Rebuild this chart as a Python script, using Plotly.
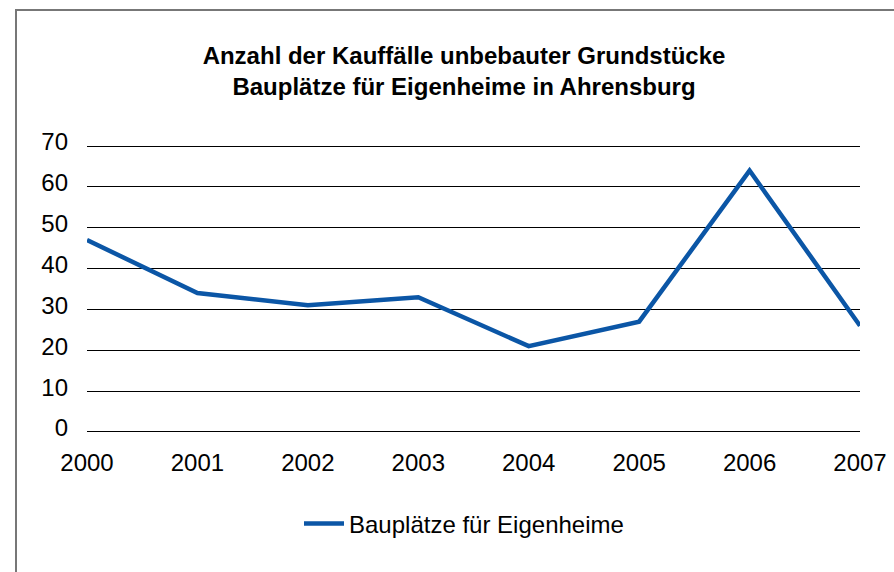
import plotly.graph_objects as go

years = [2000, 2001, 2002, 2003, 2004, 2005, 2006, 2007]
values = [47, 34, 31, 33, 21, 27, 64, 26]
series_name = "Bauplätze für Eigenheime"
title_lines = ["Anzahl der Kauffälle unbebauter Grundstücke", "Bauplätze für Eigenheime in Ahrensburg"]
y_ticks = [0, 10, 20, 30, 40, 50, 60, 70]

W, H = 894, 572
L, R, T, B = 87, 34, 144, 138
pw, ph = W - L - R, H - T - B
Y0 = H - B  # pixel of plot bottom

fig = go.Figure()
fig.add_trace(go.Scatter(
    x=years, y=values, mode="lines", name=series_name,
    line=dict(color="#0B56A6", width=4.5),
))

font = "Liberation Sans, Arial, Helvetica, sans-serif"
fs = 24
fig.update_layout(
    width=W, height=H,
    margin=dict(l=L, r=R, t=T, b=B, autoexpand=False),
    paper_bgcolor="white", plot_bgcolor="white",
    font=dict(family=font, size=fs, color="black"),
    title=dict(
        text="<b>" + "<br>".join(title_lines) + "</b>",
        xref="container", yref="container",
        x=464 / W, xanchor="center",
        y=1 - 64 / H, yanchor="middle",
        font=dict(size=fs, family=font, color="black"),
    ),
    showlegend=True,
    legend=dict(
        orientation="h", x=(299 - L) / pw, xanchor="left",
        y=(Y0 - 524) / ph, yanchor="middle", itemwidth=40,
        font=dict(size=fs), bgcolor="rgba(0,0,0,0)",
    ),
    xaxis=dict(
        range=[2000, 2007], tickvals=years, ticktext=[str(y) for y in years],
        showgrid=False, zeroline=False, showline=False, ticks="",
        ticklabelstandoff=12, tickfont=dict(size=fs), automargin=False,
    ),
    yaxis=dict(
        range=[-0.5, 70.5], tickvals=y_ticks, showgrid=True, gridcolor="black", gridwidth=1,
        zeroline=False, showline=False, ticks="", ticklabelstandoff=18,
        ticklabelshift=-4, tickfont=dict(size=fs), automargin=False,
    ),
    shapes=[dict(
        type="rect", xref="paper", yref="paper",
        x0=(16 - L) / pw, x1=(905 - L) / pw,
        y0=(Y0 - 590) / ph, y1=(Y0 - 10) / ph,
        line=dict(color="#777777", width=2), fillcolor="rgba(0,0,0,0)", layer="below",
    )],
)

fig.write_html(
    "out.html",
    config={"displayModeBar": False},
    post_script="document.body.style.margin='0';document.body.style.overflow='hidden';",
)
